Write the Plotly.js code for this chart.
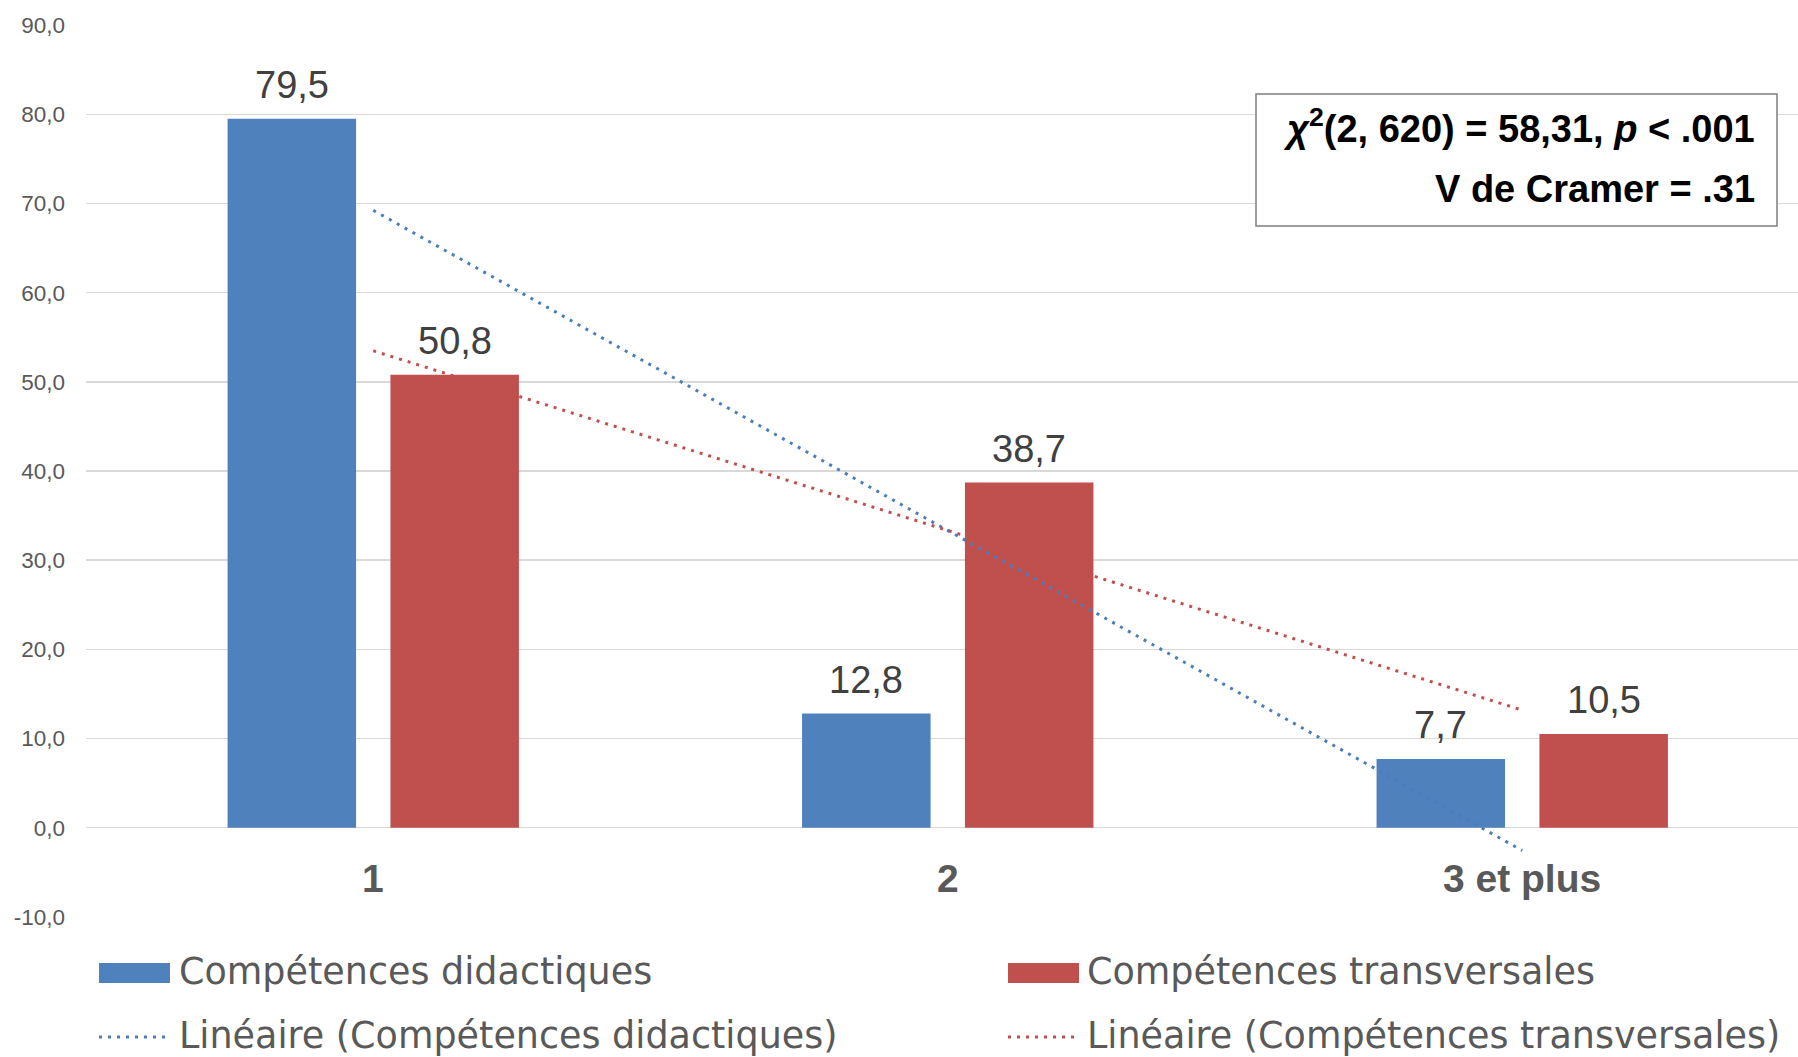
<!DOCTYPE html>
<html>
<head>
<meta charset="utf-8">
<script src="https://cdn.plot.ly/plotly-3.0.1.min.js"></script>
<style>html,body{margin:0;padding:0;background:#fff;}#chart{width:1798px;height:1057px;}</style>
</head>
<body>
<div id="chart"></div>
<script>
// ---- data ----
const categories = ['1', '2', '3 et plus'];
const didactiques = [79.5, 12.8, 7.7];
const transversales = [50.8, 38.7, 10.5];
const seriesNames = ['Compétences didactiques', 'Compétences transversales'];
const trendNames = ['Linéaire (Compétences didactiques)', 'Linéaire (Compétences transversales)'];
const yTickVals = [-10, 0, 10, 20, 30, 40, 50, 60, 70, 80, 90];
const statLine1 = '<b><i>χ</i><sup>2</sup>(2, 620) = 58,31, <i>p</i> &lt; .001</b>';
const statLine2 = '<b>V de Cramer = .31</b>';

// ---- style ----
const BLUE = '#4F81BD';
const RED = '#C0504D';
const W = 1798, H = 1057;
const M = {l: 86, r: 0, t: 25, b: 140};
const FONT = 'Liberation Sans, Arial, sans-serif';
const LEGFONT = 'DejaVu Sans, sans-serif';
const BARGAP = 0.433, BARGROUPGAP = 0.211;

// least-squares linear trend (like Excel's "Linéaire" trendline)
function linearTrend(vals) {
  const n = vals.length;
  const xs = vals.map((_, i) => i + 1);
  const mx = xs.reduce((a, b) => a + b, 0) / n;
  const my = vals.reduce((a, b) => a + b, 0) / n;
  let sxy = 0, sxx = 0;
  for (let i = 0; i < n; i++) { sxy += (xs[i] - mx) * (vals[i] - my); sxx += (xs[i] - mx) ** 2; }
  const slope = sxy / sxx, icpt = my - slope * mx;
  return xs.map(x => icpt + slope * x);
}

const fmt = v => v.toFixed(1).replace('.', ',');

const traces = [
  {type: 'bar', name: seriesNames[0], x: categories, y: didactiques,
   marker: {color: BLUE}, hoverinfo: 'x+y'},
  {type: 'bar', name: seriesNames[1], x: categories, y: transversales,
   marker: {color: RED}, hoverinfo: 'x+y'},
  {type: 'scatter', mode: 'lines', name: trendNames[0], x: categories, y: linearTrend(didactiques),
   line: {color: '#4A7EBB', width: 3, dash: '3px,6px'}, cliponaxis: false},
  {type: 'scatter', mode: 'lines', name: trendNames[1], x: categories, y: linearTrend(transversales),
   line: {color: RED, width: 3, dash: '3px,6px'}, cliponaxis: false}
];

// pixel -> paper helpers (layout only)
const PW = W - M.l - M.r, PH = H - M.t - M.b;
const px = x => (x - M.l) / PW;
const py = y => (H - M.b - y) / PH;

const shapes = [
  // stats box
  {type: 'rect', xref: 'paper', yref: 'paper', x0: px(1256), x1: px(1777), y0: py(226), y1: py(94),
   line: {color: '#7f7f7f', width: 1.5}, fillcolor: '#ffffff', layer: 'above'},
  // legend swatches
  {type: 'rect', xref: 'paper', yref: 'paper', x0: px(99), x1: px(170), y0: py(983), y1: py(963),
   line: {width: 0}, fillcolor: BLUE},
  {type: 'rect', xref: 'paper', yref: 'paper', x0: px(1008), x1: px(1079), y0: py(983), y1: py(963),
   line: {width: 0}, fillcolor: RED},
  {type: 'line', xref: 'paper', yref: 'paper', x0: px(99), x1: px(170), y0: py(1037), y1: py(1037),
   line: {color: '#4A7EBB', width: 3, dash: '3px,6px'}},
  {type: 'line', xref: 'paper', yref: 'paper', x0: px(1008), x1: px(1079), y0: py(1037), y1: py(1037),
   line: {color: RED, width: 3, dash: '3px,6px'}}
];

// bar centre offset inside a category (from layout bar gaps)
const slot = (1 - BARGAP) / 2;
const labelFont = {family: FONT, size: 38, color: '#404040'};
const valueLabels = [];
[didactiques, transversales].forEach((vals, s) => {
  vals.forEach((v, i) => {
    valueLabels.push({xref: 'x', yref: 'y', x: i + (s === 0 ? -slot / 2 : slot / 2), y: v,
      xanchor: 'center', yanchor: 'middle', yshift: 34, text: fmt(v), showarrow: false, font: labelFont});
  });
});

const legFont = {family: LEGFONT, size: 36.5, color: '#595959'};
const annotations = [
  {xref: 'paper', yref: 'paper', x: px(1757), y: py(126), xanchor: 'right', yanchor: 'middle',
   text: statLine1, showarrow: false, font: {family: FONT, size: 38, color: '#000'}},
  {xref: 'paper', yref: 'paper', x: px(1757), y: py(189), xanchor: 'right', yanchor: 'middle',
   text: statLine2, showarrow: false, font: {family: FONT, size: 38, color: '#000'}},
  {xref: 'paper', yref: 'paper', x: px(177), y: py(971), xanchor: 'left', yanchor: 'middle',
   text: seriesNames[0], showarrow: false, font: legFont},
  {xref: 'paper', yref: 'paper', x: px(1085), y: py(971), xanchor: 'left', yanchor: 'middle',
   text: seriesNames[1], showarrow: false, font: legFont},
  {xref: 'paper', yref: 'paper', x: px(177), y: py(1035), xanchor: 'left', yanchor: 'middle',
   text: trendNames[0], showarrow: false, font: legFont},
  {xref: 'paper', yref: 'paper', x: px(1085), y: py(1035), xanchor: 'left', yanchor: 'middle',
   text: trendNames[1], showarrow: false, font: legFont}
].concat(categories.map((c, i) => ({
  xref: 'x', yref: 'y', x: i, y: 0, yanchor: 'middle', xanchor: 'center', yshift: -51,
  text: '<b>' + c + '</b>', showarrow: false, font: {family: FONT, size: 39, color: '#595959'}
}))).concat(valueLabels);

const layout = {
  width: W, height: H,
  margin: M,
  paper_bgcolor: '#fff', plot_bgcolor: '#fff',
  showlegend: false,
  barmode: 'group', bargap: BARGAP, bargroupgap: BARGROUPGAP,
  font: {family: FONT},
  xaxis: {type: 'category', range: [-0.5, 2.48], showgrid: false, showticklabels: false,
          zeroline: false, showline: false, ticks: '', fixedrange: true},
  yaxis: {range: [-10.02, 90.02], tickvals: yTickVals, ticktext: yTickVals.map(fmt), showgrid: true,
          gridcolor: '#d9d9d9', gridwidth: 1.5, zeroline: false, showline: false, ticks: '',
          ticklabelstandoff: 20, tickfont: {family: FONT, size: 22.5, color: '#595959'}, fixedrange: true},
  shapes: shapes,
  annotations: annotations
};

Plotly.newPlot('chart', traces, layout, {displayModeBar: false, staticPlot: true});
</script>
</body>
</html>
